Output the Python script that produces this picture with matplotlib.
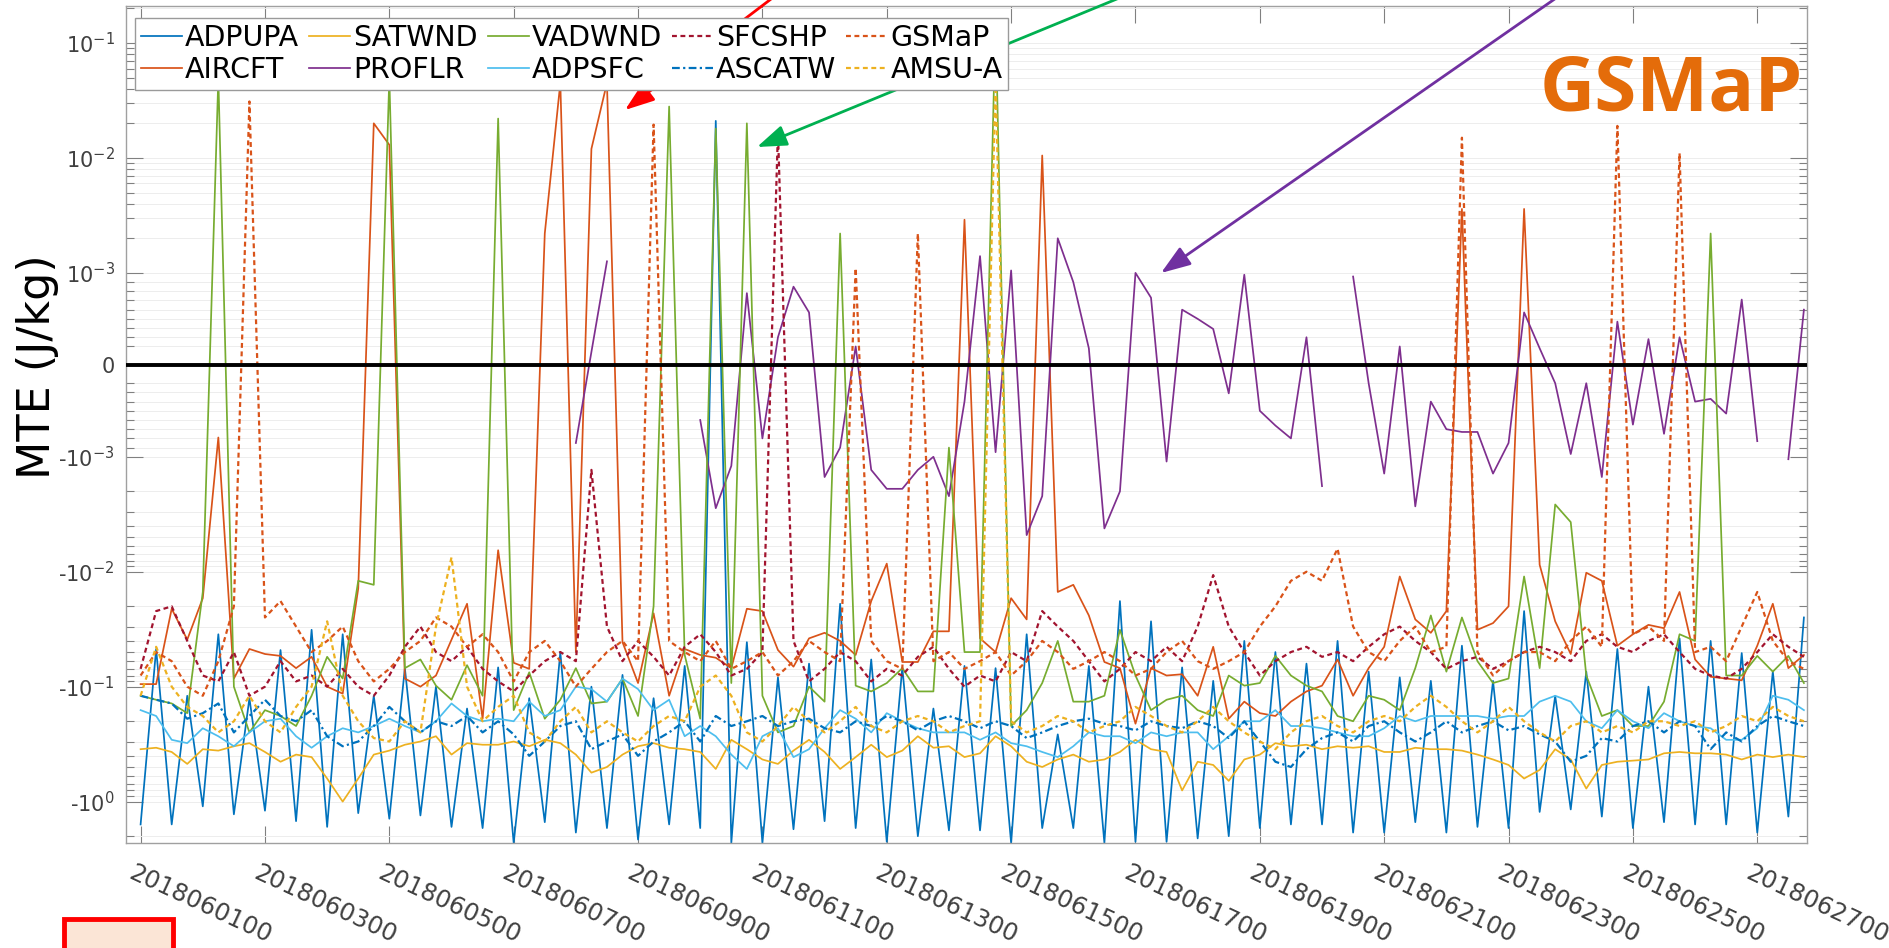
import numpy as np
import matplotlib
matplotlib.use('Agg')
import matplotlib.pyplot as plt
import matplotlib.transforms as mtransforms
from matplotlib.patches import Rectangle
from matplotlib.ticker import NullLocator

NA = np.nan

# MTE (J/kg) every 6 h, 2018060100 .. 2018062718
ADPUPA = [
    -1.58, -0.047, -1.58, -0.12, -1.1, -0.035, -1.29, -0.126, -1.2, -0.048, -1.48, -0.032,
    -1.66, -0.035, -1.26, -0.12, -1.41, -0.069, -1.32, -0.1, -1.66, -0.155, -1.7, -0.068,
    -2.29, -0.126, -1.51, -0.05, -1.86, -0.1, -1.7, -0.079, -2.14, -0.126, -1.58, -0.066,
    -1.7, 0.021, -2.29, -0.041, -2.29, -0.083, -1.74, -0.063, -1.48, -0.019, -1.7, -0.058,
    -2.24, -0.068, -2.0, -0.155, -1.78, -0.066, -1.78, -0.069, -2.29, -0.035, -1.7, -0.26,
    -1.7, -0.066, -2.29, -0.018, -2.24, -0.027, -2.24, -0.068, -2.09, -0.089, -2.0, -0.04,
    -1.7, -0.05, -1.58, -0.063, -1.58, -0.04, -1.86, -0.074, -1.86, -0.083, -1.51, -0.089,
    -1.86, -0.044, -1.66, -0.089, -1.7, -0.022, -1.23, -0.12, -1.17, -0.074, -1.35, -0.047,
    -1.7, -0.1, -1.51, -0.038, -1.58, -0.04, -1.58, -0.051, -1.86, -0.074, -1.35, -0.025]

AIRCFT = [
    -0.095, -0.095, -0.021, -0.039, -0.017, -0.00079, -0.085, -0.047, -0.052, -0.054, -0.069, -0.055,
    -0.1, -0.115, -0.014, 0.02, 0.013, -0.085, -0.1, -0.08, -0.039, -0.019, -0.19, -0.0065,
    -0.062, -0.07, 0.0022, 0.045, -0.05, 0.012, 0.045, -0.041, -0.093, -0.023, -0.12, -0.047,
    -0.053, -0.056, -0.069, -0.021, -0.022, -0.048, -0.067, -0.038, -0.034, -0.04, -0.053, -0.018,
    -0.0085, -0.061, -0.061, -0.033, -0.033, 0.0029, -0.038, -0.05, -0.017, -0.026, 0.0105, -0.015,
    -0.013, -0.024, -0.061, -0.069, -0.21, -0.069, -0.08, -0.078, -0.12, -0.045, -0.19, -0.135,
    -0.17, -0.18, -0.135, -0.11, -0.098, -0.058, -0.12, -0.069, -0.045, -0.011, -0.026, -0.034,
    -0.022, 0.0036, -0.032, -0.028, -0.02, 0.0036, -0.0087, -0.027, -0.052, -0.0102, -0.012, -0.044,
    -0.035, -0.029, -0.031, -0.015, -0.058, -0.082, -0.085, -0.088, -0.044, -0.019, -0.069, -0.053]

SATWND = [
    -0.35, -0.34, -0.37, -0.47, -0.35, -0.36, -0.33, -0.31, -0.37, -0.45, -0.39, -0.41,
    -0.63, -1.0, -0.63, -0.39, -0.36, -0.32, -0.30, -0.27, -0.39, -0.31, -0.32, -0.32,
    -0.30, -0.33, -0.29, -0.31, -0.39, -0.56, -0.50, -0.39, -0.33, -0.31, -0.34, -0.35,
    -0.37, -0.52, -0.29, -0.35, -0.43, -0.47, -0.36, -0.29, -0.37, -0.52, -0.41, -0.32,
    -0.41, -0.36, -0.27, -0.34, -0.33, -0.41, -0.38, -0.27, -0.33, -0.45, -0.50, -0.43,
    -0.39, -0.45, -0.43, -0.37, -0.29, -0.35, -0.37, -0.80, -0.45, -0.48, -0.66, -0.43,
    -0.39, -0.31, -0.33, -0.32, -0.35, -0.33, -0.34, -0.33, -0.37, -0.37, -0.34, -0.35,
    -0.35, -0.36, -0.39, -0.43, -0.48, -0.63, -0.53, -0.35, -0.43, -0.77, -0.48, -0.45,
    -0.44, -0.43, -0.38, -0.37, -0.38, -0.38, -0.39, -0.43, -0.39, -0.41, -0.39, -0.41]

PROFLR = [
    NA, NA, NA, NA, NA, NA, NA, NA, NA, NA, NA, NA,
    NA, NA, NA, NA, NA, NA, NA, NA, NA, NA, NA, NA,
    NA, NA, NA, NA, -0.00085, 0.00014, 0.00126, NA, NA, NA, NA, NA,
    -0.0006, -0.0028, -0.0012, 0.00078, -0.0008, 0.0003, 0.00085, 0.00057, -0.0015, -0.0009, 0.0002, -0.0013,
    -0.0019, -0.0019, -0.0013, -0.001, -0.0022, -0.0004, 0.0014, -0.00095, 0.00105, -0.0048, -0.0022, 0.002,
    0.0009, 0.00018, -0.0042, -0.002, 0.001, 0.00073, -0.0011, 0.0006, 0.0005, 0.00039, -0.00031, 0.00098,
    -0.0005, -0.00066, -0.0008, 0.0003, -0.0018, NA, 0.00096, -0.0002, -0.0014, 0.0002, -0.0027, -0.0004,
    -0.0007, -0.00073, -0.00073, -0.0014, -0.00085, 0.00057, 0.00018, -0.0002, -0.00097, -0.0002, -0.0015, 0.00047,
    -0.00065, 0.00028, -0.00075, 0.0003, -0.0004, -0.00037, -0.00053, 0.00071, -0.00083, NA, -0.00105, 0.0006]

VADWND = [
    -0.12, -0.13, -0.14, -0.17, -0.015, 0.05, -0.1, -0.25, -0.16, -0.18, -0.22, -0.12,
    -0.055, -0.085, -0.012, -0.013, 0.05, -0.069, -0.058, -0.098, -0.13, -0.065, -0.12, 0.022,
    -0.16, -0.075, -0.19, -0.13, -0.069, -0.14, -0.135, -0.085, -0.18, -0.02, 0.028, -0.053,
    -0.19, 0.018, -0.093, 0.02, -0.12, -0.25, -0.22, -0.1, -0.135, 0.0022, -0.098, -0.11,
    -0.093, -0.069, -0.11, -0.11, -0.0009, -0.05, -0.05, 0.16, -0.22, -0.16, -0.093, -0.04,
    -0.135, -0.135, -0.12, -0.032, -0.08, -0.16, -0.13, -0.12, -0.16, -0.18, -0.08, -0.098,
    -0.093, -0.054, -0.08, -0.098, -0.11, -0.18, -0.2, -0.12, -0.13, -0.16, -0.069, -0.024,
    -0.074, -0.025, -0.06, -0.093, -0.085, -0.011, -0.069, -0.0026, -0.0037, -0.08, -0.18, -0.16,
    -0.22, -0.22, -0.135, -0.035, -0.04, 0.0022, -0.08, -0.08, -0.054, -0.074, -0.054, -0.093]

ADPSFC = [
    -0.16, -0.18, -0.29, -0.31, -0.23, -0.27, -0.33, -0.25, -0.2, -0.19, -0.27, -0.34,
    -0.27, -0.23, -0.25, -0.22, -0.19, -0.22, -0.25, -0.2, -0.14, -0.18, -0.2, -0.19,
    -0.2, -0.135, -0.18, -0.16, -0.1, -0.105, -0.135, -0.085, -0.105, -0.16, -0.13, -0.27,
    -0.22, -0.27, -0.39, -0.52, -0.27, -0.23, -0.41, -0.35, -0.23, -0.16, -0.19, -0.25,
    -0.17, -0.2, -0.23, -0.25, -0.25, -0.25, -0.29, -0.25, -0.31, -0.33, -0.37, -0.41,
    -0.33, -0.25, -0.27, -0.27, -0.31, -0.25, -0.27, -0.25, -0.25, -0.35, -0.27, -0.2,
    -0.2, -0.16, -0.22, -0.22, -0.23, -0.25, -0.27, -0.27, -0.23, -0.18, -0.2, -0.18,
    -0.18, -0.18, -0.18, -0.19, -0.18, -0.18, -0.135, -0.12, -0.135, -0.2, -0.23, -0.16,
    -0.2, -0.23, -0.17, -0.2, -0.22, -0.23, -0.29, -0.29, -0.23, -0.12, -0.13, -0.16]

SFCSHP = [
    -0.07, -0.022, -0.02, -0.04, -0.08, -0.09, -0.05, -0.12, -0.1, -0.06, -0.09, -0.08,
    -0.1, -0.07, -0.1, -0.12, -0.08, -0.045, -0.03, -0.05, -0.06, -0.045, -0.07, -0.09,
    -0.11, -0.08, -0.06, -0.05, -0.06, -0.0013, -0.03, -0.06, -0.04, -0.055, -0.08, -0.045,
    -0.035, -0.05, -0.08, -0.07, -0.05, 0.017, -0.04, -0.09, -0.07, -0.05, -0.06, -0.09,
    -0.07, -0.08, -0.055, -0.045, -0.07, -0.1, -0.08, -0.09, -0.05, -0.06, -0.022, -0.03,
    -0.04, -0.06, -0.09, -0.07, -0.05, -0.06, -0.045, -0.06, -0.03, -0.0107, -0.03, -0.05,
    -0.08, -0.06, -0.05, -0.045, -0.055, -0.05, -0.06, -0.045, -0.035, -0.03, -0.04, -0.05,
    -0.07, -0.06, -0.055, -0.07, -0.06, -0.05, -0.045, -0.05, -0.06, -0.04, -0.035, -0.045,
    -0.05, -0.04, -0.035, -0.05, -0.07, -0.08, -0.085, -0.07, -0.05, -0.035, -0.045, -0.055]

ASCATW = [
    -0.12, -0.13, -0.14, -0.19, -0.17, -0.14, -0.25, -0.18, -0.13, -0.18, -0.2, -0.16,
    -0.27, -0.33, -0.3, -0.22, -0.15, -0.2, -0.25, -0.2, -0.22, -0.18, -0.25, -0.2,
    -0.26, -0.4, -0.3, -0.22, -0.2, -0.35, -0.3, -0.26, -0.4, -0.3, -0.25, -0.2,
    -0.3, -0.18, -0.22, -0.2, -0.18, -0.22, -0.2, -0.19, -0.23, -0.25, -0.2, -0.22,
    -0.18, -0.2, -0.24, -0.2, -0.18, -0.2, -0.23, -0.2, -0.22, -0.28, -0.25, -0.22,
    -0.2, -0.19, -0.21, -0.22, -0.24, -0.2, -0.22, -0.23, -0.2, -0.22, -0.28, -0.2,
    -0.3, -0.45, -0.5, -0.35, -0.28, -0.25, -0.3, -0.22, -0.2, -0.25, -0.3, -0.25,
    -0.2, -0.25, -0.22, -0.2, -0.24, -0.22, -0.26, -0.3, -0.45, -0.4, -0.28, -0.3,
    -0.22, -0.2, -0.25, -0.2, -0.22, -0.35, -0.25, -0.3, -0.22, -0.18, -0.2, -0.22]

GSMAP = [
    -0.08, -0.05, -0.06, -0.1, -0.12, -0.06, -0.02, 0.031, -0.025, -0.018, -0.03, -0.05,
    -0.04, -0.03, -0.06, -0.09, -0.07, -0.05, -0.04, -0.025, -0.03, -0.045, -0.035, -0.05,
    -0.09, -0.05, -0.04, -0.06, -0.1, -0.07, -0.05, -0.04, -0.06, 0.0195, -0.04, -0.05,
    -0.06, -0.04, -0.07, -0.06, -0.05, -0.08, -0.06, -0.04, -0.05, -0.06, 0.0011, -0.04,
    -0.06, -0.07, 0.0022, -0.06, -0.05, -0.07, -0.06, -0.05, -0.08, -0.06, -0.04, -0.05,
    -0.07, -0.06, -0.05, -0.06, -0.08, -0.07, -0.05, -0.04, -0.06, -0.07, -0.06, -0.05,
    -0.03, -0.02, -0.012, -0.01, -0.012, -0.0063, -0.03, -0.05, -0.06, -0.04, -0.03, -0.05,
    -0.045, 0.015, -0.05, -0.08, -0.06, -0.05, -0.05, -0.06, -0.04, -0.03, -0.045, 0.019,
    -0.035, -0.03, -0.04, 0.011, -0.05, -0.045, -0.06, -0.03, -0.015, -0.04, -0.06, -0.07]

AMSUA = [
    -0.12, -0.045, -0.1, -0.15, -0.18, -0.25, -0.2, -0.12, -0.2, -0.25, -0.15, -0.1,
    -0.027, -0.12, -0.2, -0.28, -0.3, -0.2, -0.25, -0.03, -0.0075, -0.1, -0.2, -0.15,
    -0.12, -0.25, -0.3, -0.2, -0.15, -0.25, -0.2, -0.25, -0.3, -0.22, -0.18, -0.2,
    -0.1, -0.08, -0.12, -0.25, -0.3, -0.22, -0.15, -0.2, -0.25, -0.2, -0.15, -0.22,
    -0.25, -0.2, -0.18, -0.2, -0.25, -0.22, -0.2, 0.05, -0.2, -0.25, -0.22, -0.18,
    -0.2, -0.25, -0.22, -0.2, -0.15, -0.18, -0.22, -0.25, -0.2, -0.15, -0.2, -0.25,
    -0.3, -0.35, -0.25, -0.2, -0.18, -0.22, -0.25, -0.2, -0.18, -0.2, -0.15, -0.12,
    -0.15, -0.2, -0.25, -0.2, -0.15, -0.2, -0.25, -0.3, -0.22, -0.2, -0.25, -0.22,
    -0.25, -0.2, -0.2, -0.22, -0.2, -0.25, -0.22, -0.18, -0.2, -0.15, -0.18, -0.2]

XTICKLABELS = ['2018060100', '2018060300', '2018060500', '2018060700', '2018060900',
               '2018061100', '2018061300', '2018061500', '2018061700', '2018061900',
               '2018062100', '2018062300', '2018062500', '2018062700']
YTICKS = [1e-1, 1e-2, 1e-3, 0, -1e-3, -1e-2, -1e-1, -1]
YTICKLABELS = [r'$10^{-1}$', r'$10^{-2}$', r'$10^{-3}$', '0',
               r'-$10^{-3}$', r'-$10^{-2}$', r'-$10^{-1}$', r'-$10^{0}$']
YLIM = (-2.29, 0.21)

DOT = (0, (2.2, 1.6))
SERIES = [
    ('ADPUPA', ADPUPA, '#0072BD', '-'),
    ('AIRCFT', AIRCFT, '#D95319', '-'),
    ('SATWND', SATWND, '#EDB120', '-'),
    ('PROFLR', PROFLR, '#7E2F8E', '-'),
    ('VADWND', VADWND, '#77AC30', '-'),
    ('ADPSFC', ADPSFC, '#4DBEEE', '-'),
    ('SFCSHP', SFCSHP, '#A2142F', DOT),
    ('ASCATW', ASCATW, '#0072BD', (0, (3.5, 1.5, 1, 1.5))),
    ('GSMaP', GSMAP, '#D95319', DOT),
    ('AMSU-A', AMSUA, '#EDB120', DOT),
]

fig = plt.figure(figsize=(18.89, 9.48), dpi=100)
ax = fig.add_axes([0.0667, 0.1108, 0.8899, 0.8829])

x = np.arange(len(ADPUPA))
for name, vals, col, ls in SERIES:
    lw = 1.25 if ls == '-' else 1.6
    ax.plot(x, vals, color=col, ls=ls, lw=lw, label=name)

ax.axhline(0, color='k', lw=2.8, zorder=6)

# symmetric log axis, linear part between -1e-3 and 1e-3
ax.set_yscale('symlog', linthresh=1e-3, linscale=0.72)

ax.set_yticks(YTICKS)
ax.set_yticklabels(YTICKLABELS)
minors = [s * m * 10.0 ** k for s in (1, -1) for k in range(-4, 1) for m in range(2, 10)]
minors = [v for v in minors if YLIM[0] < v < YLIM[1]]
ax.set_yticks(minors, minor=True)
ax.set_ylim(*YLIM)

ax.set_xticks(np.arange(0, 108, 8))
ax.set_xticklabels(XTICKLABELS, rotation=-25, ha='left', va='top', rotation_mode='anchor')
ax.xaxis.set_minor_locator(NullLocator())
ax.set_xlim(-0.94, 107.2)

ax.tick_params(axis='both', which='both', direction='in', top=True, right=True,
               color='#808080', labelcolor='#404040', width=0.8)
ax.tick_params(axis='both', which='major', length=12)
ax.tick_params(axis='both', which='minor', length=6)
ax.tick_params(axis='x', labelsize=17.5, pad=13)
ax.tick_params(axis='y', labelsize=15, pad=8)
shift = mtransforms.ScaledTranslation(-5 / 100, 0, fig.dpi_scale_trans)
for lab in ax.get_xticklabels():
    lab.set_transform(lab.get_transform() + shift)
for sp in ax.spines.values():
    sp.set_color('#a0a0a0')
    sp.set_linewidth(1.0)

ax.grid(True, axis='y', which='both', color='#ededed', lw=0.7)
ax.set_axisbelow(True)

ax.set_ylabel('MTE (J/kg)', fontsize=32)
ax.yaxis.set_label_coords(-0.04, 0.569)

leg = ax.legend(ncol=5, loc='upper left', bbox_to_anchor=(0.0054, 0.9857), borderaxespad=0,
                fontsize=20.5, handlelength=1.45, handletextpad=0.1, columnspacing=0.35,
                labelspacing=0.15, borderpad=0.2, fancybox=False, framealpha=1,
                edgecolor='#9a9a9a')
leg.get_frame().set_linewidth(1.0)

# panel label
fig.text(1671 / 1889, 1 - 91 / 948, 'GSMaP', color='#E46C0A', fontsize=55,
         fontweight='bold', family='Open Sans', ha='center', va='center')

# pointer arrows coming in from above the figure (figure pixels, origin bottom-left)
for tip, tail, col in [((625, 838), (800, 971), '#FF0000'),
                       ((757, 801), (1163, 968), '#00B050'),
                       ((1161, 675), (1582, 968), '#7030A0')]:
    ax.annotate('', xy=tip, xycoords='figure pixels', xytext=tail, textcoords='figure pixels',
                arrowprops=dict(arrowstyle='-|>,head_length=0.9,head_width=0.32', color=col,
                                lw=2, mutation_scale=20, shrinkA=0, shrinkB=0),
                annotation_clip=False)

# marker box at the bottom-left corner
fig.add_artist(Rectangle((64 / 1889, -12 / 948), 109 / 1889, 41 / 948,
                         transform=fig.transFigure, facecolor='#FBE5D6',
                         edgecolor='#FF0000', lw=3.5))

fig.savefig('out.png', dpi=100)
